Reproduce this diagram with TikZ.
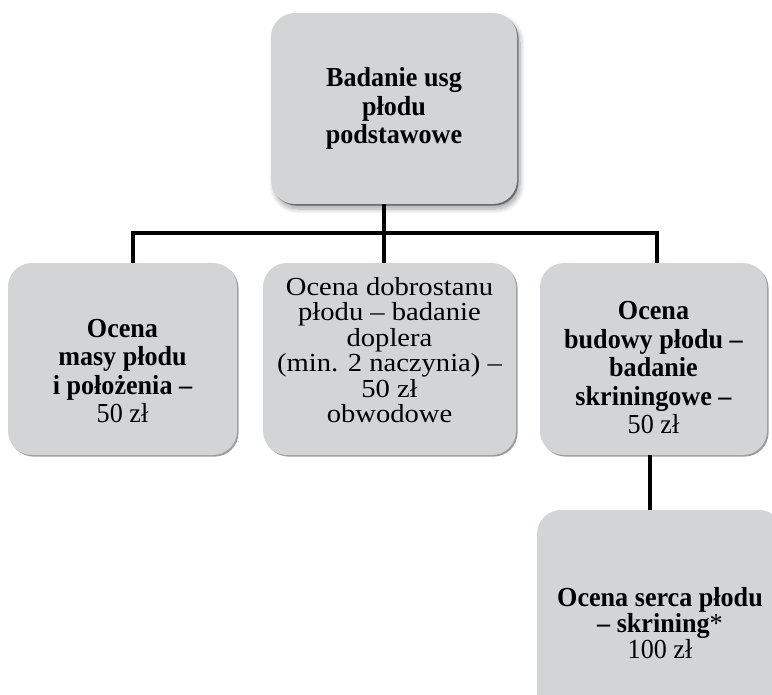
\documentclass[tikz,border=0pt]{standalone}
\usepackage{fontspec}
\setmainfont{Liberation Serif}
\newfontfamily\widefont[FakeStretch=1.1]{Liberation Serif}
\newfontfamily\narrowfont[FakeStretch=0.95]{Liberation Serif}
\usetikzlibrary{shadows,shadows.blur}
\definecolor{boxfill}{HTML}{D3D4D6}
\definecolor{boxedge}{HTML}{9C9DA0}
\tikzset{
  box/.style={rounded corners=24pt, fill=boxfill, inner sep=0pt,
    drop shadow={shadow xshift=1.6pt, shadow yshift=-1.6pt, fill=boxedge, opacity=1}},
  topbox/.style={box, blur shadow={shadow xshift=3pt, shadow yshift=-5pt, shadow blur steps=8, shadow opacity=35, shadow blur radius=5pt}},
  txt/.style={inner sep=0pt, align=center},
  boldtxt/.style={txt, font=\fontsize{27.5}{28.5}\narrowfont\bfseries},
  regtxt/.style={txt, font=\fontsize{26}{25.5}\widefont},
  conn/.style={line width=3.2pt, black},
}
\begin{document}
\begin{tikzpicture}[x=1pt,y=-1pt]
\useasboundingbox (0,0) rectangle (772,695);
\clip (0,0) rectangle (772,695);
% boxes
\node[topbox, minimum width=246pt, minimum height=191pt] (top) at (394,108.5) {};
\node[box, minimum width=229pt, minimum height=192pt] (left) at (122.5,359) {};
\node[box, minimum width=253pt, minimum height=192pt] (mid) at (389.5,359) {};
\node[box, minimum width=227pt, minimum height=192pt] (right) at (653.5,359) {};
\node[box, minimum width=246pt, minimum height=222pt] (bot) at (660,621) {};
% texts
\node[boldtxt] (toptext) at (top.center)
  {Badanie usg\\płodu\\podstawowe};
\node[boldtxt] (lefttext) at ([yshift=-12pt]left.center)
  {Ocena\\masy płodu\\i położenia –\\\mdseries 50 zł};
\node[regtxt] (midtext) at ([yshift=9pt]mid.center)
  {Ocena dobrostanu\\płodu – badanie\\doplera\\(min. 2 naczynia) –\\50 zł\\obwodowe};
\node[boldtxt] (righttext) at ([yshift=-9pt]right.center)
  {Ocena\\budowy płodu –\\badanie\\skriningowe –\\\mdseries 50 zł};
\node[boldtxt, font=\fontsize{27.5}{24}\narrowfont\bfseries] (bottext) at ([yshift=-2pt]bot.center)
  {Ocena serca płodu\\– skrining{\mdseries*}\\\mdseries 100 zł};
% connectors
\coordinate (busL) at (133,233);
\coordinate (busM) at (384,233);
\coordinate (busR) at (657,233);
\coordinate (dv) at (650,0);
\draw[conn] (busM |- top.south) -- (busM);
\draw[conn, line cap=rect] (busL) -- (busR);
\draw[conn] (busL) -- (busL |- left.north);
\draw[conn] (busM) -- (busM |- mid.north);
\draw[conn] (busR) -- (busR |- right.north);
\draw[conn] (dv |- right.south) -- (dv |- bot.north);
\end{tikzpicture}
\end{document}
